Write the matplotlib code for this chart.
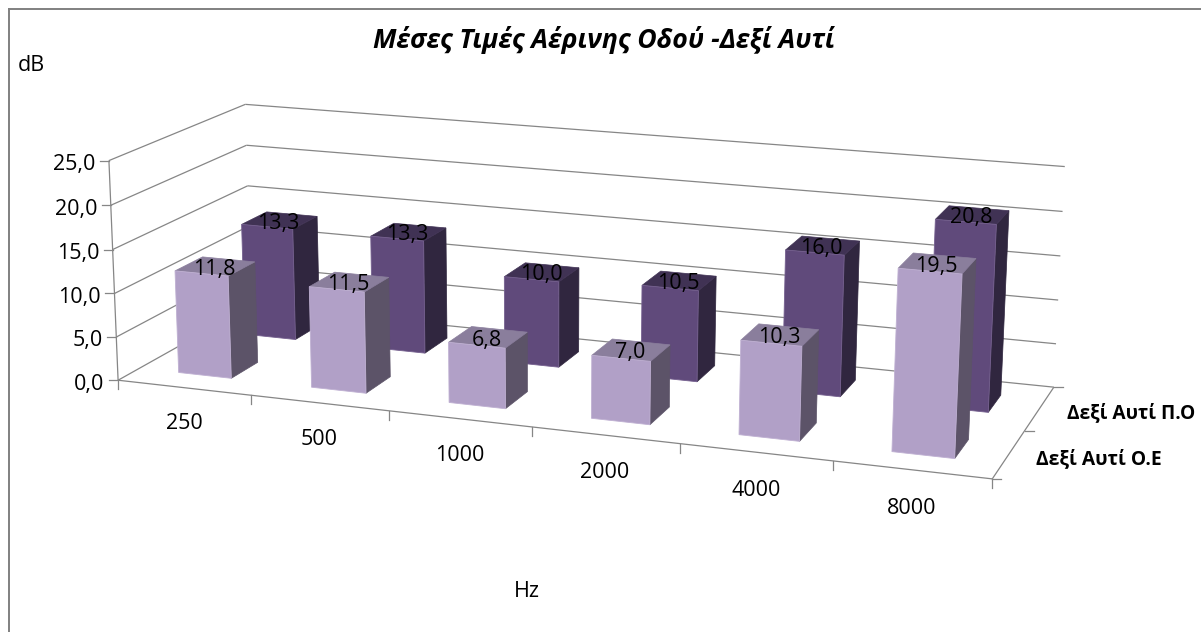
import numpy as np
import matplotlib
matplotlib.use('Agg')
import matplotlib.pyplot as plt
from matplotlib.patches import Polygon

plt.rcParams['font.family'] = ['Open Sans', 'DejaVu Sans']

# data
freqs = ['250', '500', '1000', '2000', '4000', '8000']
series_names = ['Δεξί Αυτί Ο.Ε', 'Δεξί Αυτί Π.Ο']
right_oe = [11.8, 11.5, 6.8, 7.0, 10.3, 19.5]
right_po = [13.3, 13.3, 10.0, 10.5, 16.0, 20.8]
yticks = [0, 5, 10, 15, 20, 25]

# colours per series: front, side, top, front edge
light = ('#B1A0C7', '#5C5368', '#8A7E9C', '#BFB0D2')
dark = ('#604A7B', '#30263F', '#403254', '#75608F')
grid_col = '#868686'

# scene corners (category, series, value) -> pixel, used to fit the perspective
scene = np.array([
    [0, 0, 0], [0, 0, 25], [0, 2, 0], [0, 2, 25],
    [6, 0, 0], [6, 2, 0], [6, 2, 25], [6, 2, 5], [6, 2, 15], [0, 2, 15],
], dtype=float)
pixels = np.array([
    [118.3, 380.0], [108.7, 160.7], [251.0, 306.0], [245.7, 104.3],
    [992.3, 479.0], [1054.0, 387.3], [1065.0, 167.0], [1056.0, 343.7],
    [1060.0, 255.3], [247.3, 185.7],
])

DIGIT_HALF = 7.8  # half the height of a digit at label size, in pixels


def fit_camera(pts3, pts2):
    rows = []
    for (x, y, z), (u, v) in zip(pts3, pts2):
        rows.append([x, y, z, 1, 0, 0, 0, 0, -u * x, -u * y, -u * z, -u])
        rows.append([0, 0, 0, 0, x, y, z, 1, -v * x, -v * y, -v * z, -v])
    _, _, vt = np.linalg.svd(np.array(rows))
    return vt[-1].reshape(3, 4)


camera = fit_camera(scene, pixels)


def project(x, y, z):
    p = camera @ np.array([x, y, z, 1.0])
    return p[0] / p[2], p[1] / p[2]


def line3d(ax, a, b):
    p, q = project(*a), project(*b)
    ax.plot([p[0], q[0]], [p[1], q[1]], color=grid_col, lw=0.9, zorder=1, solid_capstyle='butt')


def label(ax, x, y, s, ha='center', size=15.5, **kw):
    # y is the middle of the digits
    ax.text(x, y + DIGIT_HALF, s, ha=ha, va='baseline', fontsize=size, color='black', **kw)


def draw_bar(ax, i, s, value, colours, pad=0.3):
    x0, x1 = i + pad, i + 1 - pad
    y0, y1 = s + pad, s + 1 - pad
    front = [(x0, y0, 0), (x1, y0, 0), (x1, y0, value), (x0, y0, value)]
    side = [(x1, y0, 0), (x1, y1, 0), (x1, y1, value), (x1, y0, value)]
    top = [(x0, y0, value), (x1, y0, value), (x1, y1, value), (x0, y1, value)]
    z = 4 - s
    ax.add_patch(Polygon([project(*p) for p in side], closed=True, facecolor=colours[1],
                         edgecolor=colours[1], lw=0.5, zorder=z))
    ax.add_patch(Polygon([project(*p) for p in top], closed=True, facecolor=colours[2],
                         edgecolor=colours[2], lw=0.5, zorder=z))
    ax.add_patch(Polygon([project(*p) for p in front], closed=True, facecolor=colours[0],
                         edgecolor=colours[3], lw=0.6, zorder=z))


fig = plt.figure(figsize=(12.01, 6.32), dpi=100)
ax = fig.add_axes([0, 0, 1, 1])
ax.set_xlim(0, 1201)
ax.set_ylim(632, 0)
ax.axis('off')

# outer frame of the chart area
ax.plot([9, 9], [632, 9], color='#808080', lw=1.4, zorder=1)
ax.plot([9, 1201], [9, 9], color='#808080', lw=1.4, zorder=1)

# wall gridlines
for v in yticks:
    line3d(ax, (0, 0, v), (0, 2, v))
    line3d(ax, (0, 2, v), (6, 2, v))

# axes and ticks
line3d(ax, (0, 0, 0), (0, 0, 25))
line3d(ax, (0, 0, 0), (6, 0, 0))
line3d(ax, (6, 0, 0), (6, 2, 0))
for v in yticks:
    px, py = project(0, 0, v)
    ax.plot([px - 9, px], [py, py], color=grid_col, lw=0.9, zorder=1)
    label(ax, px - 13.5, py + 1.5, f'{v:.1f}'.replace('.', ','), ha='right')
for i in range(7):
    px, py = project(i, 0, 0)
    ax.plot([px, px], [py, py + 9], color=grid_col, lw=0.9, zorder=1)
for s in range(3):
    px, py = project(6, s, 0)
    ax.plot([px, px + 9], [py, py], color=grid_col, lw=0.9, zorder=1)

for i, f in enumerate(freqs):
    px, py = project(i + 0.5, 0, 0)
    label(ax, px, py + 34 + 0.4 * i, f)

# back row first so the front row covers it
for s, (vals, cols) in reversed(list(enumerate(zip((right_oe, right_po), (light, dark))))):
    for i, v in enumerate(vals):
        draw_bar(ax, i, s, v, cols)

for s, vals in enumerate((right_oe, right_po)):
    for i, v in enumerate(vals):
        px, py = project(i + 0.5, s + 0.5, v)
        label(ax, px - 1, py + 0.5, f'{v:.1f}'.replace('.', ','), zorder=6)

ax.text(1036, 463.8, series_names[0], ha='left', va='baseline', fontsize=13.9, fontweight='bold')
ax.text(1067, 418.2, series_names[1], ha='left', va='baseline', fontsize=13.8, fontweight='bold')

ax.text(604, 48.5, 'Μέσες Τιμές Αέρινης Οδού -Δεξί Αυτί', ha='center', va='baseline', fontsize=19.2,
        fontweight='bold', fontstyle='italic')
ax.text(31, 70.7, 'dB', ha='center', va='baseline', fontsize=15.5)
ax.text(527, 597, 'Hz', ha='center', va='baseline', fontsize=15.5)

fig.savefig('out.png', dpi=100)
